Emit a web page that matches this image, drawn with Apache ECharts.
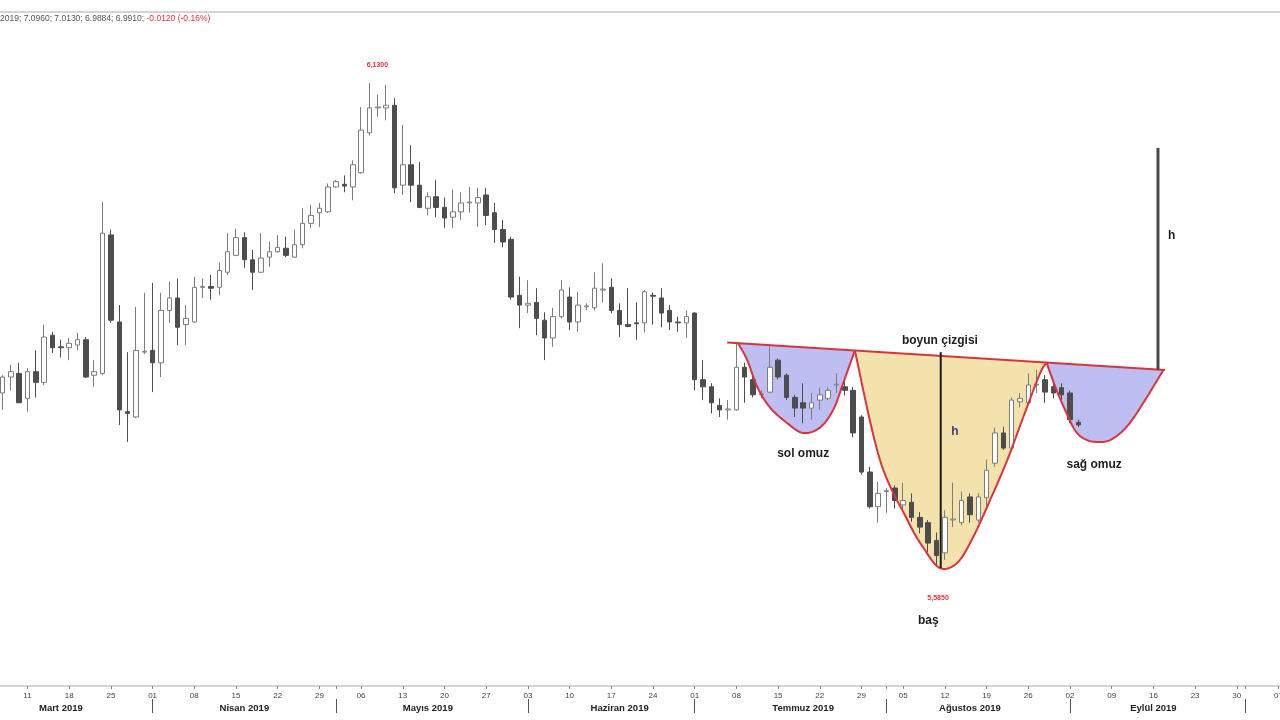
<!DOCTYPE html>
<html><head><meta charset="utf-8">
<script src="https://cdn.jsdelivr.net/npm/echarts@6/dist/echarts.min.js"></script>
<style>html,body{margin:0;padding:0;background:#fff}#c{width:1280px;height:720px}</style>
</head><body><div id="c"></div>
<script>
const dates = [
'2019-03-06','2019-03-07','2019-03-08','2019-03-11','2019-03-12','2019-03-13','2019-03-14','2019-03-15','2019-03-18','2019-03-19','2019-03-20','2019-03-21','2019-03-22','2019-03-25','2019-03-26','2019-03-27','2019-03-28','2019-03-29',
'2019-04-01','2019-04-02','2019-04-03','2019-04-04','2019-04-05','2019-04-08','2019-04-09','2019-04-10','2019-04-11','2019-04-12','2019-04-15','2019-04-16','2019-04-17','2019-04-18','2019-04-19','2019-04-22','2019-04-23','2019-04-24','2019-04-25','2019-04-26','2019-04-29','2019-04-30',
'2019-05-01','2019-05-02','2019-05-03','2019-05-06','2019-05-07','2019-05-08','2019-05-09','2019-05-10','2019-05-13','2019-05-14','2019-05-15','2019-05-16','2019-05-17','2019-05-20','2019-05-21','2019-05-22','2019-05-23','2019-05-24','2019-05-27','2019-05-28','2019-05-29','2019-05-30','2019-05-31',
'2019-06-03','2019-06-04','2019-06-05','2019-06-06','2019-06-07','2019-06-10','2019-06-11','2019-06-12','2019-06-13','2019-06-14','2019-06-17','2019-06-18','2019-06-19','2019-06-20','2019-06-21','2019-06-24','2019-06-25','2019-06-26','2019-06-27','2019-06-28',
'2019-07-01','2019-07-02','2019-07-03','2019-07-04','2019-07-05','2019-07-08','2019-07-09','2019-07-10','2019-07-11','2019-07-12','2019-07-15','2019-07-16','2019-07-17','2019-07-18','2019-07-19','2019-07-22','2019-07-23','2019-07-24','2019-07-25','2019-07-26','2019-07-29','2019-07-30','2019-07-31',
'2019-08-01','2019-08-02','2019-08-05','2019-08-06','2019-08-07','2019-08-08','2019-08-09','2019-08-12','2019-08-13','2019-08-14','2019-08-15','2019-08-16','2019-08-19','2019-08-20','2019-08-21','2019-08-22','2019-08-23','2019-08-26','2019-08-27','2019-08-28','2019-08-29','2019-08-30',
'2019-09-02','2019-09-03','2019-09-04','2019-09-05','2019-09-06','2019-09-09','2019-09-10','2019-09-11','2019-09-12','2019-09-13','2019-09-16','2019-09-17','2019-09-18','2019-09-19','2019-09-20','2019-09-23','2019-09-24','2019-09-25','2019-09-26','2019-09-27','2019-09-30',
'2019-10-01','2019-10-02','2019-10-03','2019-10-04','2019-10-07'];

const opens = [
5.781,5.799,5.803,5.775,5.805,5.793,5.846,5.833,5.832,5.835,
5.841,5.801,5.803,5.959,5.861,5.760,5.754,5.827,5.829,5.815,
5.874,5.888,5.858,5.861,5.900,5.901,5.900,5.917,5.936,5.956,
5.931,5.917,5.934,5.940,5.944,5.934,5.948,5.972,5.984,5.985,
6.013,6.016,6.013,6.029,6.074,6.102,6.102,6.105,6.015,6.038,
6.015,5.989,6.002,5.990,5.979,5.985,5.995,5.995,6.004,5.984,
5.965,5.954,5.891,5.880,5.883,5.863,5.843,5.867,5.889,5.861,
5.878,5.877,5.897,5.900,5.874,5.858,5.860,5.860,5.891,5.888,
5.874,5.861,5.860,5.871,5.796,5.788,5.767,5.762,5.762,5.810,
5.796,5.779,5.782,5.818,5.801,5.776,5.770,5.764,5.773,5.775,
5.790,5.788,5.784,5.754,5.692,5.653,5.670,5.674,5.655,5.658,
5.641,5.635,5.615,5.601,5.638,5.635,5.664,5.638,5.663,5.702,
5.736,5.719,5.771,5.770,5.790,5.796,5.788,5.787,5.781,5.748];
const closes = [
5.799,5.805,5.770,5.805,5.793,5.844,5.832,5.832,5.837,5.841,
5.799,5.805,5.961,5.863,5.762,5.758,5.829,5.828,5.815,5.874,
5.888,5.855,5.865,5.900,5.901,5.899,5.919,5.940,5.956,5.931,
5.917,5.933,5.940,5.945,5.936,5.948,5.972,5.981,5.989,6.013,
6.019,6.014,6.038,6.077,6.102,6.103,6.105,6.012,6.038,6.015,
5.990,6.002,5.990,5.978,5.985,5.995,5.996,6.001,5.981,5.965,
5.951,5.889,5.880,5.882,5.865,5.843,5.867,5.897,5.861,5.880,
5.879,5.899,5.898,5.874,5.858,5.856,5.859,5.895,5.890,5.871,
5.861,5.860,5.867,5.796,5.788,5.770,5.762,5.763,5.810,5.799,
5.779,5.780,5.810,5.799,5.776,5.764,5.764,5.770,5.779,5.784,
5.791,5.784,5.736,5.692,5.653,5.668,5.671,5.660,5.660,5.641,
5.630,5.612,5.598,5.641,5.639,5.660,5.644,5.664,5.694,5.736,
5.719,5.773,5.775,5.790,5.791,5.782,5.781,5.779,5.751,5.745];
const lows = [
5.762,5.784,5.770,5.760,5.776,5.790,5.826,5.821,5.818,5.829,
5.798,5.788,5.801,5.860,5.745,5.726,5.753,5.825,5.782,5.799,
5.860,5.835,5.835,5.860,5.888,5.886,5.891,5.914,5.935,5.922,
5.897,5.916,5.923,5.939,5.934,5.933,5.944,5.967,5.968,5.984,
6.012,6.007,5.998,6.028,6.071,6.092,6.088,6.006,6.004,5.996,
5.989,5.981,5.979,5.967,5.967,5.976,5.984,5.968,5.970,5.950,
5.945,5.886,5.854,5.871,5.846,5.818,5.833,5.865,5.852,5.850,
5.874,5.874,5.883,5.871,5.844,5.855,5.841,5.849,5.858,5.855,
5.852,5.850,5.843,5.784,5.773,5.758,5.754,5.751,5.761,5.770,
5.776,5.775,5.781,5.796,5.773,5.754,5.747,5.751,5.762,5.773,
5.781,5.778,5.731,5.689,5.651,5.635,5.646,5.651,5.649,5.636,
5.623,5.602,5.585,5.593,5.630,5.632,5.635,5.635,5.653,5.698,
5.717,5.717,5.765,5.767,5.781,5.770,5.775,5.773,5.747,5.743];
const highs = [
5.801,5.813,5.815,5.809,5.829,5.858,5.850,5.841,5.843,5.849,
5.844,5.818,5.996,5.965,5.880,5.827,5.878,5.894,5.905,5.894,
5.906,5.910,5.880,5.912,5.910,5.914,5.928,5.961,5.966,5.962,
5.942,5.961,5.951,5.959,5.957,5.965,5.989,5.993,5.995,6.017,
6.021,6.026,6.043,6.103,6.130,6.117,6.128,6.113,6.083,6.060,
6.041,6.007,6.021,6.001,6.010,6.007,6.013,6.012,6.012,5.995,
5.976,5.957,5.912,5.908,5.899,5.872,5.877,5.908,5.900,5.895,
5.882,5.917,5.927,5.910,5.882,5.899,5.883,5.897,5.894,5.899,
5.880,5.867,5.874,5.872,5.818,5.792,5.775,5.773,5.837,5.815,
5.803,5.784,5.833,5.820,5.803,5.779,5.792,5.781,5.787,5.788,
5.803,5.796,5.788,5.756,5.698,5.681,5.674,5.677,5.680,5.668,
5.647,5.638,5.624,5.649,5.680,5.670,5.668,5.668,5.706,5.742,
5.743,5.776,5.781,5.803,5.807,5.801,5.796,5.792,5.784,5.751];

const dayTickDates = ['2019-03-11','2019-03-18','2019-03-25','2019-04-01','2019-04-08','2019-04-15','2019-04-22','2019-04-29','2019-05-06','2019-05-13','2019-05-20','2019-05-27','2019-06-03','2019-06-10','2019-06-17','2019-06-24','2019-07-01','2019-07-08','2019-07-15','2019-07-22','2019-07-29','2019-08-05','2019-08-12','2019-08-19','2019-08-26','2019-09-02','2019-09-09','2019-09-16','2019-09-23','2019-09-30','2019-10-07'];
const dayTickLabels = ['11','18','25','01','08','15','22','29','06','13','20','27','03','10','17','24','01','08','15','22','29','05','12','19','26','02','09','16','23','30','07'];
const monthStartDates = ['2019-04-01','2019-05-01','2019-06-03','2019-07-01','2019-08-01','2019-09-02','2019-10-01'];
const monthLabelDates = ['2019-03-15','2019-04-16','2019-05-16','2019-06-18','2019-07-18','2019-08-15','2019-09-16'];
const monthLabels = ['Mart 2019','Nisan 2019','Mayıs 2019','Haziran 2019','Temmuz 2019','Ağustos 2019','Eylül 2019'];

// annotation geometry: [trading-day index, price]
const neckline = [[86.9, 5.838], [139.4, 5.807]];
const leftShoulder = [[88.2,5.837],[89.3,5.818],[90.5,5.788],[92.0,5.765],[94.1,5.747],[96.0,5.736],[98.0,5.742],[99.6,5.762],[100.8,5.792],[102.2,5.829]];
const headCurve = [[102.2,5.829],[105.2,5.706],[108.5,5.638],[110.4,5.607],[112.4,5.584],[114.5,5.590],[116.4,5.619],[118.4,5.660],[120.5,5.706],[122.4,5.754],[124.4,5.803],[125.2,5.815]];
const rightShoulder = [[125.2,5.815],[126.4,5.784],[127.6,5.758],[128.6,5.739],[129.6,5.730],[131.0,5.726],[132.8,5.728],[134.8,5.743],[136.8,5.770],[139.2,5.807]];
const headHeightLine = [[112.5, 5.827], [112.5, 5.584]];
const targetLine = [[138.55, 6.057], [138.55, 5.807]];
const notes = [
  {text:'boyun çizgisi', at:[112.4, 5.840], color:'#1e1e1e'},
  {text:'sol omuz', at:[96.0, 5.713], color:'#1e1e1e'},
  {text:'sağ omuz', at:[130.9, 5.700], color:'#1e1e1e'},
  {text:'baş', at:[111.0, 5.525], color:'#1e1e1e'},
  {text:'h', at:[114.2, 5.737], color:'#3b3b8f'},
  {text:'h', at:[140.2, 5.958], color:'#1e1e1e'}
];

const RED = '#d8343e';
const FONT = '"Liberation Sans", Arial, sans-serif';

function spline(pts, seg) {
  seg = seg || 14;
  const out = [], n = pts.length;
  for (let i = 0; i < n - 1; i++) {
    const p0 = pts[Math.max(i - 1, 0)], p1 = pts[i], p2 = pts[i + 1], p3 = pts[Math.min(i + 2, n - 1)];
    for (let s = 0; s < seg; s++) {
      const t = s / seg, t2 = t * t, t3 = t2 * t;
      const f = (a, b, c, d) => 0.5 * (2 * b + (-a + c) * t + (2 * a - 5 * b + 4 * c - d) * t2 + (-a + 3 * b - 3 * c + d) * t3);
      out.push([f(p0[0], p1[0], p2[0], p3[0]), f(p0[1], p1[1], p2[1], p3[1])]);
    }
  }
  out.push(pts[n - 1]);
  return out;
}

const ohlc = opens.map((o, i) => [o, closes[i], lows[i], highs[i]]);
const tickSet = new Set(dayTickDates.concat(monthStartDates));

function fillSeries(pts, fill) {
  return {
    type: 'custom', xAxisIndex: 2, yAxisIndex: 0, z: 1, silent: true, clip: false,
    data: [pts[0]],
    renderItem: (params, api) => {
      const px = spline(pts.map(p => api.coord(p)));
      return {type: 'polygon', shape: {points: px}, style: {fill: fill, stroke: null}};
    }
  };
}

const outlineSeries = {
  type: 'custom', xAxisIndex: 2, yAxisIndex: 0, z: 5, silent: true, clip: false,
  data: [neckline[0]],
  renderItem: (params, api) => {
    const c = p => api.coord(p);
    const curves = [leftShoulder, headCurve, rightShoulder].map(pts => ({
      type: 'polyline', shape: {points: spline(pts.map(c))},
      style: {stroke: RED, lineWidth: 2, fill: null}
    }));
    const seg = (a, color, w) => ({type: 'line', shape: {x1: c(a[0])[0], y1: c(a[0])[1], x2: c(a[1])[0], y2: c(a[1])[1]}, style: {stroke: color, lineWidth: w}});
    return {type: 'group', children: curves.concat([
      seg(neckline, RED, 2),
      seg(headHeightLine, '#1a1a1a', 2),
      seg(targetLine, '#4a4a4a', 3)
    ])};
  }
};

const textSeries = {
  type: 'custom', xAxisIndex: 2, yAxisIndex: 0, z: 6, silent: true, clip: false,
  data: notes.map(n => n.at),
  renderItem: (params, api) => {
    const n = notes[params.dataIndex];
    const p = api.coord(n.at);
    return {type: 'text', x: p[0], y: p[1], style: {text: n.text, fill: n.color, font: 'bold 12px ' + FONT, align: 'center', verticalAlign: 'middle'}};
  }
};

const chart = echarts.init(document.getElementById('c'), null, {renderer: 'canvas'});
chart.setOption({
  animation: false,
  backgroundColor: '#ffffff',
  grid: {left: 2.5, right: 1.5, top: 12, bottom: 34, show: false, containLabel: false, outerBoundsMode: 'none'},
  graphic: [
    {type: 'line', shape: {x1: 0, y1: 12, x2: 1280, y2: 12}, style: {stroke: '#d4d4d4', lineWidth: 2}, silent: true},
    {type: 'line', shape: {x1: 0, y1: 686, x2: 1280, y2: 686}, style: {stroke: '#c6c6c6', lineWidth: 1.5}, silent: true},
    {
      type: 'text', left: 0, top: 14,
      style: {
        text: '{g|2019; 7.0960; 7.0130; 6.9884; 6.9910; }{r|-0.0120 (-0.16%)}',
        rich: {g: {fill: '#555', fontSize: 8.5, fontFamily: FONT}, r: {fill: '#e0303c', fontSize: 8.5, fontFamily: FONT}}
      }
    }
  ],
  xAxis: [
    {
      type: 'category', data: dates, boundaryGap: false,
      axisLine: {show: false},
      axisTick: {show: true, length: 3, interval: (i, v) => tickSet.has(v), lineStyle: {color: '#8a8a8a'}},
      axisLabel: {interval: (i, v) => dayTickDates.indexOf(v) >= 0, formatter: v => dayTickLabels[dayTickDates.indexOf(v)] || '', fontSize: 8, color: '#444', margin: 6, fontFamily: FONT},
      splitLine: {show: false}
    },
    {
      type: 'category', data: dates, boundaryGap: false, position: 'bottom', offset: 13,
      axisLine: {show: false},
      axisTick: {show: true, length: 14, interval: (i, v) => monthStartDates.indexOf(v) >= 0, lineStyle: {color: '#555', width: 1}},
      axisLabel: {interval: (i, v) => monthLabelDates.indexOf(v) >= 0, formatter: v => monthLabels[monthLabelDates.indexOf(v)] || '', fontSize: 9.5, fontWeight: 'bold', color: '#222', margin: 4, fontFamily: FONT},
      splitLine: {show: false}
    },
    {type: 'value', min: 0, max: dates.length - 1, show: false, splitLine: {show: false}}
  ],
  yAxis: [{type: 'value', min: 5.4511, max: 6.2100, show: false, splitLine: {show: false}}],
  series: [
    fillSeries(leftShoulder, 'rgba(150,150,235,0.62)'),
    fillSeries(headCurve, 'rgba(235,205,110,0.58)'),
    fillSeries(rightShoulder, 'rgba(150,150,235,0.62)'),
    {
      type: 'candlestick', xAxisIndex: 0, yAxisIndex: 0, z: 3, data: ohlc, barWidth: 5, clip: false,
      itemStyle: {color: '#ffffff', color0: '#4d4d4d', borderColor: '#7c7c7c', borderColor0: '#4d4d4d', borderWidth: 1},
      markPoint: {
        symbol: 'circle', symbolSize: 1, itemStyle: {color: 'rgba(0,0,0,0)'},
        label: {show: true, position: 'inside', color: '#e0303c', fontSize: 7, fontWeight: 'bold', fontFamily: FONT,
          formatter: p => p.value.toFixed(4).replace('.', ',')},
        data: [
          {type: 'max', valueDim: 'highest', label: {offset: [8, -18]}},
          {type: 'min', valueDim: 'lowest', label: {offset: [1.5, 31]}}
        ]
      }
    },
    outlineSeries,
    textSeries
  ]
});
</script>
</body></html>
